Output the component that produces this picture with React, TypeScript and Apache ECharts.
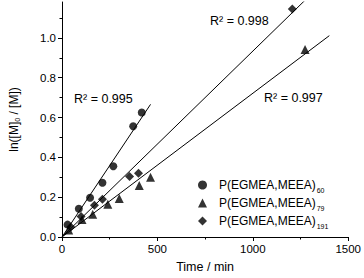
import React, { useEffect, useRef } from "react";
import * as echarts from "echarts";

// Data (time in min, ln([M]0/[M]))
const circleX = [29, 88, 147, 212, 269, 373, 418];
const circleY = [0.062, 0.142, 0.197, 0.272, 0.355, 0.556, 0.625];

const triangleX = [35, 105, 161, 240, 300, 405, 464, 1274];
const triangleY = [0.035, 0.088, 0.114, 0.165, 0.193, 0.259, 0.3, 0.942];

const diamondX = [46, 100, 170, 212, 354, 401, 1207];
const diamondY = [0.05, 0.103, 0.16, 0.19, 0.304, 0.32, 1.145];

// linear fits (through origin), end points
const fitCircle = [[0, 0], [464, 0.666]];
const fitTriangle = [[0, 0], [1401, 1.011]];
const fitDiamond = [[0, 0], [1290, 1.204]];

const seriesNames = ["P(EGMEA,MEEA)60", "P(EGMEA,MEEA)79", "P(EGMEA,MEEA)191"];
const xTicks = [0, 500, 1000, 1500];
const yMajorTicks = [0, 0.2, 0.4, 0.6, 0.8, 1.0];
const yMinorTicks = [0.1, 0.3, 0.5, 0.7, 0.9, 1.1];
const r2Labels = ["R² = 0.995", "R² = 0.998", "R² = 0.997"];

const FONT = "Liberation Sans, Arial, sans-serif";

function zip(xs: number[], ys: number[]) {
  return xs.map((x, i) => [x, ys[i]]);
}

export default function App() {
  const ref = useRef<HTMLDivElement>(null);
  useEffect(() => {
    if (!ref.current) return;
    const chart = echarts.init(ref.current, null, { renderer: "svg" });
    const symbols = ["circle", "triangle", "diamond"];
    const scatterData = [zip(circleX, circleY), zip(triangleX, triangleY), zip(diamondX, diamondY)];
    const fits = [fitCircle, fitTriangle, fitDiamond];
    const series: any[] = [];
    fits.forEach((f, i) => {
      series.push({
        type: "line",
        name: "fit" + i,
        data: f,
        showSymbol: false,
        symbol: "none",
        lineStyle: { color: "#000", width: 1 },
        silent: true,
        z: 1,
      });
    });
    seriesNames.forEach((n, i) => {
      series.push({
        type: "scatter",
        name: n,
        data: scatterData[i],
        symbol: symbols[i],
        symbolSize: i === 0 ? 8 : 9,
        itemStyle: { color: "#000" },
        z: 3,
      });
    });
    const legendSub = (name: string) => {
      const m = name.match(/^(P\(EGMEA,MEEA\))(\d+)$/);
      return m ? `{a|${m[1]}}{s|${m[2]}}` : name;
    };
    const yCommon = { type: "value", min: 0, max: 1.18, interval: 0.2, splitLine: { show: false } };
    chart.setOption({
      animation: false,
      textStyle: { fontFamily: FONT },
      grid: { left: 54, right: 14, top: 2, bottom: 37, containLabel: false },
      xAxis: {
        type: "value",
        min: 0,
        max: 1500,
        interval: 500,
        name: "Time / min",
        nameLocation: "middle",
        nameGap: 23,
        nameTextStyle: { fontSize: 12.5, color: "#000", fontFamily: FONT },
        axisLine: { lineStyle: { color: "#000", width: 1 } },
        axisTick: { show: true, length: 4, inside: false, lineStyle: { color: "#000" } },
        minorTick: { show: true, splitNumber: 2, length: 2.5, lineStyle: { color: "#000" } },
        axisLabel: {
          color: "#000",
          fontSize: 11.5,
          margin: 6,
          fontFamily: FONT,
          formatter: (v: number) => (xTicks.includes(v) ? String(v) : ""),
        },
        splitLine: { show: false },
      },
      yAxis: [
        {
          ...yCommon,
          name: "{a|ln([M]}{s|0}{a| / [M])}",
          nameLocation: "middle",
          nameGap: 41,
          nameRotate: 90,
          nameTextStyle: {
            color: "#000",
            fontFamily: FONT,
            rich: {
              a: { fontSize: 12, color: "#000", fontFamily: FONT, lineHeight: 14 },
              s: { fontSize: 7, color: "#000", fontFamily: FONT, verticalAlign: "bottom", lineHeight: 8 },
            },
          },
          axisLine: { show: true, onZero: false, lineStyle: { color: "#000", width: 1 } },
          axisTick: { show: true, length: 4, inside: false, customValues: yMajorTicks, lineStyle: { color: "#000" } },
          minorTick: { show: false },
          axisLabel: {
            color: "#000",
            fontSize: 11.5,
            margin: 6,
            fontFamily: FONT,
            customValues: yMajorTicks,
            formatter: (v: number) => (v <= 1.0001 ? v.toFixed(1) : ""),
          },
        },
        {
          ...yCommon,
          position: "left",
          axisLine: { show: false },
          axisTick: { show: true, length: 2.5, inside: false, customValues: yMinorTicks, lineStyle: { color: "#000" } },
          axisLabel: { show: false },
        },
      ],
      legend: {
        data: seriesNames,
        orient: "vertical",
        left: 193,
        top: 174,
        itemWidth: 9,
        itemHeight: 9,
        itemGap: 3,
        selectedMode: false,
        formatter: legendSub,
        textStyle: {
          color: "#000",
          fontFamily: FONT,
          padding: [0, 0, 0, 7],
          rich: {
            a: { fontSize: 12, color: "#000", fontFamily: FONT, lineHeight: 14 },
            s: { fontSize: 7, color: "#000", fontFamily: FONT, verticalAlign: "bottom", lineHeight: 8, padding: [0, 0, -2, 1] },
          },
        },
      },
      graphic: [
        { type: "text", left: 74, top: 92, style: { text: r2Labels[0], fontSize: 12.5, fill: "#000", fontFamily: FONT } },
        { type: "text", left: 210, top: 14, style: { text: r2Labels[1], fontSize: 12.5, fill: "#000", fontFamily: FONT } },
        { type: "text", left: 264, top: 91, style: { text: r2Labels[2], fontSize: 12.5, fill: "#000", fontFamily: FONT } },
      ],
      series,
    });
    return () => chart.dispose();
  }, []);
  return (
    <div
      ref={ref}
      style={{ position: "fixed", left: 0, top: 0, width: 364, height: 278, background: "#fff" }}
    />
  );
}
